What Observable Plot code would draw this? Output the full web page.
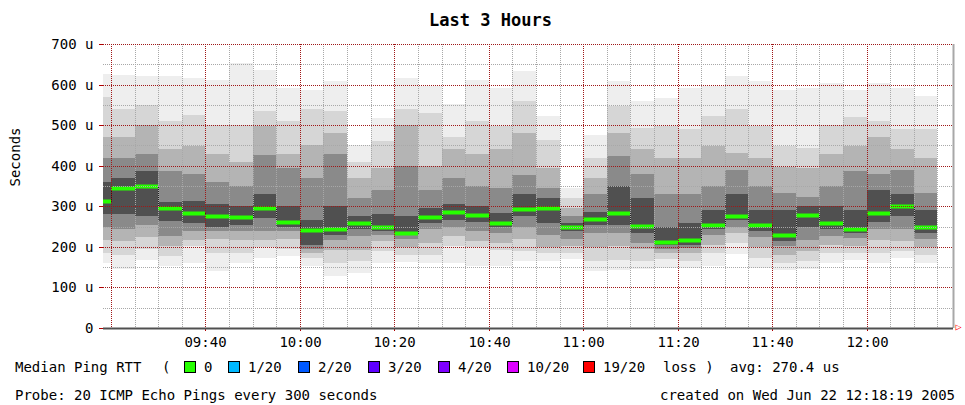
<!DOCTYPE html>
<html><head><meta charset="utf-8">
<script src="https://cdn.jsdelivr.net/npm/d3@7"></script>
<script src="https://cdn.jsdelivr.net/npm/@observablehq/plot@0.6"></script>
<style>
body{margin:0;background:#fff;}
#wrap{position:relative;width:965px;height:405px;font-family:"DejaVu Sans Mono",monospace;font-size:14px;color:#000;overflow:hidden;background:#fff}
#title{position:absolute;top:10px;left:8px;width:965px;text-align:center;font-weight:bold;font-size:17px;line-height:20px}
#chart{position:absolute;top:30px;left:0}
.t{position:absolute;white-space:pre;line-height:16px}
.box{position:absolute;width:10px;height:10px;border:1px solid #000}
#chart g[aria-label="y-axis tick"], #chart g[aria-label="x-axis tick"]{stroke:#b00000}
#chart g[aria-label="y-axis"] .tick line, #chart g[aria-label="x-axis"] .tick line{stroke:#b00000}
#chart svg rect{shape-rendering:crispEdges}
</style></head>
<body>
<div id="wrap">
  <div id="title"></div>
  <div id="chart"></div>
</div>
<script>
// ---- data ----
const titleText = "Last 3 Hours";
const windowStart = "09:18:19";
const windowEnd = "12:18:19";
const stepSeconds = 300;
const barEnd = ["09:20","09:25","09:30","09:35","09:40","09:45","09:50","09:55","10:00","10:05","10:10","10:15",
  "10:20","10:25","10:30","10:35","10:40","10:45","10:50","10:55","11:00","11:05","11:10","11:15",
  "11:20","11:25","11:30","11:35","11:40","11:45","11:50","11:55","12:00","12:05","12:10","12:15"];
const median = [314,345,349,296,283,277,273,296,262,241,243,259,
  248,234,273,286,278,259,293,296,248,269,283,251,
  213,216,255,275,255,230,279,259,244,283,300,248];
// smoke upper edges, outer -> inner (microseconds)
const smokeHigh = [
  [625,570,470,420,360],[624,540,470,420,370],[620,550,500,430,386],[620,510,440,386,310],
  [616,526,448,380,312],[612,500,430,360,305],[654,500,410,350,300],[637,535,497,427,330],
  [592,510,430,394,300],[587,540,450,370,265],[608,534,480,430,300],[452,410,370,320,275],
  [518,460,394,340,280],[616,540,500,400,275],[596,530,400,340,295],[551,470,440,370,305],
  [612,510,430,350,300],[592,497,440,345,283],[633,560,480,378,330],[522,464,394,345,320],
  [345,320,295,275,258],[476,420,370,330,285],[608,546,481,423,349],[559,493,440,380,320],
  [567,497,420,330,250],[592,490,420,330,260],[596,522,448,349,290],[620,540,431,390,330],
  [608,497,420,349,290],[587,448,398,333,290],[592,444,394,324,300],[604,500,430,349,300],
  [587,520,448,386,292],[604,510,470,380,340],[592,490,440,390,330],[571,490,420,333,292]];
// smoke lower edges, outer -> inner
const smokeLow = [
  [160,185,218,250,280],[145,180,215,245,280],[168,195,225,255,275],[152,177,201,226,263],
  [160,201,218,240,258],[140,185,220,240,250],[160,185,217,240,255],[173,200,217,240,271],
  [177,195,220,238,250],[152,172,185,195,205],[127,160,193,218,230],[135,165,193,226,243],
  [160,190,215,230,240],[163,180,200,220,228],[160,180,210,243,258],[160,201,226,250,265],
  [152,200,214,238,262],[152,193,209,235,250],[164,190,220,250,275],[165,185,200,230,258],
  [170,185,201,220,238],[140,165,200,235,255],[144,168,201,234,255],[145,165,195,210,235],
  [148,170,185,195,205],[148,165,185,197,205],[152,185,205,230,245],[183,209,234,250,265],
  [148,172,200,225,240],[143,160,180,201,215],[145,165,190,218,250],[160,185,205,226,245],
  [168,185,201,222,235],[160,185,218,243,262],[172,190,215,243,275],[160,180,200,220,235]];
const smokeShades = ["#eeeeee","#d6d6d6","#b4b4b4","#8a8a8a","#505050"];
const yTicks = [0,100,200,300,400,500,600,700];
const yMinorTicks = [50,150,250,350,450,550,650];
const xMajorGrid = ["09:20","09:40","10:00","10:20","10:40","11:00","11:20","11:40","12:00"];
const xLabels = ["09:40","10:00","10:20","10:40","11:00","11:20","11:40","12:00"];
const lossLabels = ["0","1/20","2/20","3/20","4/20","10/20","19/20"];
const lossColors = ["#26ff00","#00b8ff","#0059ff","#5e00ff","#7e00ff","#dd00ff","#ff0000"];
const legendTitle = "Median Ping RTT";
const avgText = "avg: 270.4 us";
const probeText = "Probe: 20 ICMP Echo Pings every 300 seconds";
const createdText = "created on Wed Jun 22 12:18:19 2005";
const yLabel = "Seconds";

// ---- build ----
const toMin = s => { const p = s.split(":").map(Number); return p[0]*60 + p[1] + (p[2]||0)/60; };
const x0 = toMin(windowStart), x1 = toMin(windowEnd);
const step = stepSeconds/60;
const bars = barEnd.map((t,i) => ({x1: toMin(t)-step, x2: toMin(t), med: median[i], hi: smokeHigh[i], lo: smokeLow[i]}));
const medPts = bars.map(b => ({x: b.x1, y: b.med})).concat([{x: bars[bars.length-1].x2, y: bars[bars.length-1].med}]);
const xMinor = barEnd.filter(t => !xMajorGrid.includes(t)).map(toMin);

const marks = [];
smokeShades.forEach((c,k) => {
  marks.push(Plot.rect(bars, {x1:"x1", x2:"x2", y1: d => d.lo[k], y2: d => d.hi[k], fill: c, inset: 0}));
});
marks.push(Plot.line(medPts, {x:"x", y:"y", curve:"step-after", stroke:"#202020", strokeWidth:1}));
marks.push(Plot.ruleY(bars, {y:"med", x1:"x1", x2:"x2", stroke: lossColors[0], strokeWidth: 4}));
marks.push(Plot.ruleY(yMinorTicks, {stroke:"#a8a8a8", strokeDasharray:"1,1"}));
marks.push(Plot.ruleX(xMinor, {stroke:"#a8a8a8", strokeDasharray:"1,1"}));
marks.push(Plot.ruleY(yTicks.filter(d => d > 0), {stroke:"#a01818", strokeDasharray:"1,1"}));
marks.push(Plot.ruleX(xMajorGrid.map(toMin), {stroke:"#a01818", strokeDasharray:"1,1"}));
marks.push(Plot.ruleX([x1], {stroke:"#a8a8a8", strokeWidth:2}));
marks.push(Plot.ruleY([0], {stroke:"#505050", strokeWidth:2}));
marks.push(Plot.text(["\u25B7"], {frameAnchor:"bottom-right", dx:8, dy:1, fill:"#ff0000", fontSize:10}));
marks.push(Plot.text([yLabel], {frameAnchor:"left", rotate:-90, dx:-88, fontSize:14, fill:"#000"}));

const chart = Plot.plot({
  width: 965, height: 320,
  marginLeft: 103, marginRight: 12, marginTop: 14, marginBottom: 22,
  style: {fontFamily: "DejaVu Sans Mono", fontSize: "14px", background: "transparent", overflow: "visible", color: "#000"},
  x: {domain: [x0, x1], clamp: true, round: true, ticks: xLabels.map(toMin), tickFormat: (d) => xLabels[xLabels.map(toMin).indexOf(d)], tickSize: 3, tickPadding: 6, label: null},
  y: {domain: [0, 700], round: true, ticks: yTicks, tickFormat: d => d === 0 ? "0" : d + " u", tickSize: 4, tickPadding: 6, label: null},
  marks
});
document.getElementById("chart").appendChild(chart);
document.getElementById("title").textContent = titleText;

// legend
const wrap = document.getElementById("wrap");
function addText(txt, left, top, extra) {
  const s = document.createElement("div"); s.className = "t"; s.textContent = txt;
  s.style.left = left + "px"; s.style.top = top + "px";
  if (extra) Object.assign(s.style, extra);
  wrap.appendChild(s);
}
const legendTop = 359;
addText(legendTitle, 15, legendTop);
addText("(", 162, legendTop);
const boxX = [184, 228, 298, 368, 438, 507, 583];
lossLabels.forEach((l,i) => {
  const b = document.createElement("div"); b.className = "box";
  b.style.left = boxX[i] + "px"; b.style.top = (legendTop + 2) + "px"; b.style.background = lossColors[i];
  wrap.appendChild(b);
  addText(l, boxX[i] + 20, legendTop);
});
addText("loss )", 663, legendTop);
addText(avgText, 730, legendTop);
addText(probeText, 15, 387);
addText(createdText, 0, 387, {left: "auto", right: "10px"});
</script>
</body></html>
